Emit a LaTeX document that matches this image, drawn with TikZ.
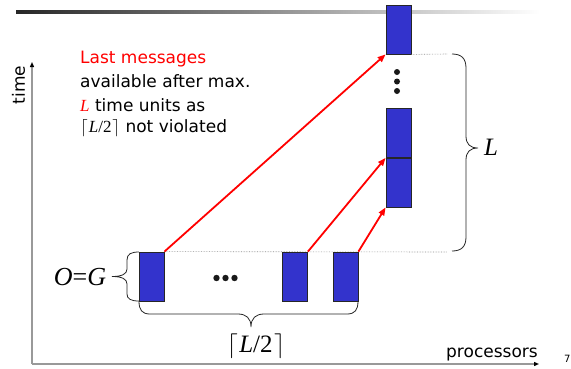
\documentclass[tikz,border=0pt]{standalone}
\usepackage{fontspec}
\setmainfont{DejaVu Sans}
\newfontfamily\seriffont{Liberation Serif}
\usetikzlibrary{arrows.meta}
\definecolor{boxblue}{HTML}{3333CC}
\tikzset{
  blk/.style={draw=black!85, line width=0.8pt, fill=boxblue, minimum width=25pt, minimum height=49pt, inner sep=0pt},
  msg/.style={draw=red, line width=1.8pt, -{Triangle[length=8pt,width=6pt]}},
  guide/.style={draw=black!45, densely dotted, line width=0.6pt},
  brace/.style={draw=black!85, line width=0.8pt},
  axis/.style={draw=black!40, line width=1.4pt, -{Triangle[length=5pt,width=4pt,black]}},
  txt/.style={font=\fontsize{17}{20}\selectfont, inner sep=0pt, anchor=base west},
  dotf/.style={fill=black!90}
}
\newcommand{\ceilhalf}{$\bigl\lceil\mkern1mu$\textit{L}/2$\mkern1mu\bigr\rceil$}
\begin{document}
\begin{tikzpicture}[x=1pt,y=-1pt]
\useasboundingbox (0,0) rectangle (571,368);
% top gradient rule
\shade[left color=black!85, middle color=black!30, right color=white] (16,10) rectangle (540,13);
% axes
\coordinate (origin) at (32,364);
\coordinate (ytop) at (32,62);
\coordinate (xend) at (539,364);
\draw[axis] (origin) -- (ytop);
\draw[axis] (origin) -- (xend);
\node[font=\fontsize{17}{20}\selectfont, rotate=90, inner sep=0pt] (tlabel) at (18.5,85) {time};
\node[txt] (plabel) at (446,357) {processors};
\node[font=\fontsize{10}{12}\selectfont, inner sep=0pt, anchor=base west] (pnum) at (564,362) {7};
% guide lines
\coordinate (gb) at (447,252);
\coordinate (gt) at (447,54);
% boxes
\node[blk] (b1) at (151.5,276.5) {};
\node[blk] (b2) at (295,276.5) {};
\node[blk] (b3) at (345.5,276.5) {};
\node[blk] (t1) at (398.5,29.5) {};
\node[blk] (m1) at (398.5,133) {};
\node[blk] (m2) at (398.5,182.5) {};
\draw[guide] (b1.north east) -- (gb);
\draw[guide] (t1.south east) -- (gt);
% redraw boxes over guide
\node[blk] at (b2) {};
\node[blk] at (b3) {};
% messages
\draw[msg] (b1.north east) -- (t1.south west);
\draw[msg] (b2.north east) -- (m1.south west);
\draw[msg] (b3.north east) -- (m2.south west);
% dots
\fill[dotf] (216.5,278) circle (3.2) (225.5,278) circle (3.2) (234.5,278) circle (3.2);
\fill[dotf] (397,72) circle (3) (397,81.5) circle (3) (397,91) circle (3);
% right brace L
\draw[brace] (452,54) .. controls (461,54) and (466,58) .. (466,68) -- (466,136)
  .. controls (466,144) and (470,148) .. (478,148)
  .. controls (470,148) and (466,152) .. (466,160) -- (466,237)
  .. controls (466,247) and (461,251) .. (452,251);
\node[font=\seriffont\itshape\fontsize{25}{28}\selectfont, inner sep=0pt] (Llab) at (491,147) {L};
% left brace O=G
\draw[brace] (139,252) .. controls (131,252) and (127,254) .. (127,260) -- (127,269)
  .. controls (127,274) and (122,276.5) .. (112,276.5)
  .. controls (122,276.5) and (127,279) .. (127,284) -- (127,294)
  .. controls (127,299) and (131,301) .. (139,301);
\node[font=\seriffont\fontsize{26}{28}\selectfont, inner sep=0pt] (oglab) at (80,277) {\itshape O\upshape=\itshape G};
% bottom brace
\draw[brace] (139,301) .. controls (139,310) and (142,314) .. (150,314) -- (238,314)
  .. controls (246,314) and (251,318) .. (251,327)
  .. controls (251,318) and (256,314) .. (264,314) -- (347,314)
  .. controls (355,314) and (358,310) .. (358,301);
\node[font=\seriffont\fontsize{25}{28}\selectfont, inner sep=0pt] (halfL) at (256,346) {\ceilhalf};
% text block
\node[txt, text=red] (l1) at (80,63) {Last messages};
\node[txt] (l2) at (80,87.5) {available after max.};
\node[txt] (l3) at (80,111) {{\seriffont\itshape\color{red}L} time units as};
\node[txt] (l4) at (80,132) {{\seriffont\ceilhalf} not violated};
\end{tikzpicture}
\end{document}
